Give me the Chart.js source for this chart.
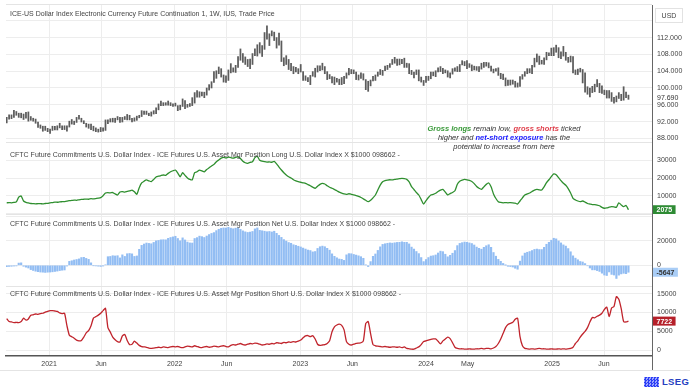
<!DOCTYPE html>
<html>
<head>
<meta charset="utf-8">
<script src="https://cdn.jsdelivr.net/npm/chart.js@4.4.0/dist/chart.umd.min.js"></script>
<style>
  body { margin: 0; background: #fff; font-family: "Liberation Sans", Arial, sans-serif; }
  #wrap { position: relative; width: 690px; height: 388px; overflow: hidden; background: #fff; }
  .pane { position: absolute; left: 0; }
  .ttl { position: absolute; left: 10px; font-size: 7px; line-height: 8px; color: #444; white-space: nowrap; z-index: 2; }
  .rule { position: absolute; left: 6px; width: 646px; height: 1px; background: #e4e4e4; z-index: 1; }
  #note { position: absolute; left: 394px; width: 220px; top: 124px; text-align: center; font-style: italic;
          font-size: 7.5px; line-height: 9px; color: #333; z-index: 2; }
  #usd { position: absolute; left: 655px; top: 8px; width: 26px; height: 13px; border: 1px solid #e2e2e2;
         font-size: 7px; line-height: 13px; text-align: center; color: #444; z-index: 2; }
  #vaxis { position: absolute; left: 652px; top: 5px; width: 1px; height: 365px; background: #666; z-index: 2; }
  #logo { position: absolute; left: 644px; top: 376px; z-index: 2; display: flex; align-items: center; }
  #logo i { display: inline-block; width: 15px; height: 10px; margin-right: 3px;
            background: repeating-conic-gradient(#2b3ef5 0 25%, #9aa3ff 0 50%) 0 0/3px 3px; }
  #logo b { font-size: 9.5px; color: #2540c0; letter-spacing: 0.3px; }
</style>
</head>
<body>
<div id="wrap">
  <div class="pane" style="top:5px"><canvas id="cPrice" width="690" height="137"></canvas></div>
  <div class="pane" style="top:142px"><canvas id="cLong" width="690" height="72"></canvas></div>
  <div class="pane" style="top:214px"><canvas id="cNet" width="690" height="72"></canvas></div>
  <div class="pane" style="top:286px"><canvas id="cShort" width="690" height="86"></canvas></div>

  <div class="rule" style="top:4px"></div>
  <div class="rule" style="top:142px"></div>
  <div class="rule" style="top:214px"></div>
  <div class="rule" style="top:286px"></div>
  <div class="rule" style="top:370px;left:0;width:690px"></div>
  <div id="vaxis"></div>

  <div class="ttl" style="top:10px">ICE-US Dollar Index Electronic Currency Future Continuation 1, 1W, IUS, Trade Price</div>
  <div class="ttl" style="top:151px">CFTC Future Commitments U.S. Dollar Index - ICE Futures U.S. Asset Mgr Position Long U.S. Dollar Index X $1000 098662 -</div>
  <div class="ttl" style="top:220px">CFTC Future Commitments U.S. Dollar Index - ICE Futures U.S. Asset Mgr Position Net U.S. Dollar Index X $1000 098662 -</div>
  <div class="ttl" style="top:290px">CFTC Future Commitments U.S. Dollar Index - ICE Futures U.S. Asset Mgr Position Short U.S. Dollar Index X $1000 098662 -</div>

  <div id="note"><b style="color:#3a9a3a">Gross longs</b> remain low, <b style="color:#e0404c">gross shorts</b> ticked<br>higher and <b style="color:#1a1aff">net-short exposure</b> has the<br>potential to increase from here</div>
  <div id="usd">USD</div>
  <div id="logo"><i></i><b>LSEG</b></div>
</div>

<script>
// weekly series, first week starting 2020-08-31
const priceLow = [
  91.7, 92.6, 92.7, 93.0, 93.5, 93.0, 92.9, 92.5, 92.8, 92.1,
  92.3, 92.1, 91.6, 90.6, 90.4, 89.7, 89.9, 89.6, 89.2, 89.9,
  90.0, 90.0, 90.5, 90.1, 90.1, 89.7, 90.7, 91.4, 91.3, 91.8,
  92.6, 91.9, 91.5, 90.7, 90.4, 90.1, 89.8, 89.6, 89.5, 89.6,
  89.7, 89.9, 91.5, 91.9, 91.9, 91.8, 92.4, 91.8, 91.9, 92.5,
  92.4, 92.4, 91.9, 92.1, 92.3, 92.9, 93.2, 93.7, 93.7, 93.4,
  93.3, 93.8, 93.9, 94.8, 95.8, 95.8, 95.9, 95.9, 95.8, 95.6,
  95.7, 94.6, 94.8, 95.6, 95.1, 95.4, 95.6, 95.8, 96.4, 97.8,
  97.8, 98.1, 97.7, 98.3, 99.5, 100.0, 101.3, 102.3, 103.4, 102.6,
  101.4, 101.3, 101.8, 103.6, 103.8, 103.7, 104.9, 106.6, 106.1, 105.6,
  105.1, 104.6, 105.6, 107.7, 107.6, 108.3, 107.5, 109.2, 111.6, 110.1,
  112.4, 111.3, 109.5, 110.2, 106.3, 105.3, 105.6, 104.4, 104.1, 103.4,
  103.8, 103.4, 103.8, 101.8, 101.8, 101.5, 100.8, 102.8, 102.6, 103.8,
  104.1, 104.3, 103.4, 102.0, 102.2, 101.2, 100.8, 101.4, 100.8, 100.8,
  101.0, 102.3, 103.1, 103.4, 103.4, 102.0, 101.9, 102.3, 101.9, 99.6,
  99.2, 100.5, 101.7, 101.8, 102.8, 103.2, 103.0, 104.1, 104.4, 104.9,
  105.6, 105.9, 105.4, 105.5, 105.8, 104.9, 104.9, 103.4, 103.2, 102.4,
  103.2, 101.7, 101.4, 100.6, 101.3, 101.8, 102.2, 102.9, 102.7, 103.8,
  103.9, 103.4, 103.6, 102.6, 102.4, 103.3, 104.0, 103.9, 103.9, 105.5,
  105.3, 104.6, 104.9, 104.1, 104.3, 104.2, 103.9, 104.5, 104.9, 105.2,
  104.8, 104.0, 103.6, 104.0, 103.0, 102.2, 102.0, 100.5, 100.6, 100.7,
  100.9, 100.2, 100.2, 100.4, 102.1, 102.8, 103.4, 103.6, 103.4, 105.0,
  106.2, 105.6, 105.7, 105.6, 106.7, 107.7, 107.7, 107.7, 108.5, 107.2,
  107.0, 107.6, 106.6, 106.1, 106.2, 103.6, 103.2, 103.2, 103.8, 101.2,
  99.0, 98.5, 97.9, 98.9, 99.1, 100.3, 98.9, 98.7, 98.4, 97.6,
  97.6, 96.8, 96.4, 96.7, 97.5, 97.0, 97.1, 97.7, 97.3
];
const priceHigh = [
  93.0, 93.6, 93.6, 94.7, 94.4, 94.0, 94.0, 93.8, 94.2, 94.3,
  93.2, 92.8, 92.6, 91.9, 91.2, 90.9, 90.9, 90.4, 90.2, 90.9,
  90.9, 91.0, 91.6, 91.0, 91.0, 91.0, 92.1, 92.5, 92.1, 93.0,
  93.5, 92.8, 92.2, 91.6, 91.4, 91.4, 90.9, 90.5, 90.2, 90.6,
  90.5, 92.4, 92.4, 92.7, 92.8, 92.8, 93.2, 93.0, 93.0, 93.2,
  93.7, 93.5, 92.8, 92.9, 93.3, 93.5, 94.6, 94.5, 94.5, 94.0,
  94.3, 94.6, 95.3, 96.2, 96.9, 96.5, 96.5, 96.9, 96.5, 96.2,
  96.4, 95.8, 95.9, 97.4, 97.0, 96.1, 96.3, 97.7, 98.9, 99.4,
  99.1, 99.0, 99.0, 100.0, 100.8, 101.5, 103.9, 104.1, 105.0, 104.6,
  103.1, 102.9, 104.3, 105.8, 104.8, 105.4, 107.5, 109.3, 108.2, 107.4,
  106.8, 106.9, 108.2, 109.3, 110.3, 110.8, 110.1, 113.2, 114.8, 112.9,
  113.6, 113.3, 112.0, 113.1, 111.2, 107.2, 107.7, 106.8, 105.9, 105.1,
  104.9, 104.6, 105.6, 103.9, 102.9, 102.5, 103.0, 103.9, 104.7, 105.3,
  105.3, 105.9, 105.1, 103.9, 103.2, 102.7, 102.6, 102.3, 102.1, 102.5,
  102.8, 103.6, 104.7, 104.4, 104.3, 103.8, 103.1, 103.6, 103.4, 102.0,
  101.6, 101.9, 102.8, 103.1, 103.8, 104.4, 104.2, 105.2, 105.4, 105.8,
  106.8, 107.3, 106.9, 106.9, 106.8, 107.1, 105.9, 105.8, 104.2, 103.8,
  104.3, 104.3, 102.6, 101.8, 102.8, 102.8, 103.8, 103.8, 104.1, 104.8,
  105.1, 104.7, 104.3, 104.1, 103.6, 104.6, 104.8, 105.1, 105.6, 106.5,
  106.3, 106.5, 105.8, 105.5, 105.2, 105.1, 105.1, 105.9, 106.1, 106.1,
  106.0, 105.2, 104.5, 104.6, 104.8, 103.5, 103.3, 102.4, 101.9, 101.9,
  101.9, 101.6, 101.2, 102.7, 103.2, 103.9, 104.6, 104.6, 105.4, 107.1,
  108.1, 107.6, 106.6, 107.2, 108.5, 108.4, 109.5, 109.6, 110.2, 109.6,
  108.6, 109.9, 108.5, 107.3, 107.6, 107.5, 104.3, 104.5, 104.7, 104.4,
  103.6, 100.3, 100.0, 100.4, 100.9, 102.0, 101.1, 100.5, 99.5, 99.4,
  99.4, 98.9, 97.8, 98.1, 98.9, 98.5, 100.3, 99.0, 98.3
];
const lastPrice = 97.69;

const longPos = [
  6000, 6100, 6000, 6200, 6500, 9200, 9800, 7000, 6200, 5900,
  5600, 5500, 5400, 5500, 5500, 5400, 5600, 5700, 6000, 6100,
  6400, 6300, 6500, 6600, 6700, 6900, 7200, 7300, 7500, 7400,
  7700, 7900, 8000, 8100, 8000, 8300, 8200, 8400, 8600, 8900,
  10000, 11500, 11700, 11600, 11800, 11000, 10400, 12100, 12300, 12000,
  12400, 12700, 13200, 12200, 10800, 14500, 17200, 18200, 18900, 18400,
  18000, 19200, 20600, 21000, 21400, 21700, 21500, 22600, 23500, 24100,
  24500, 22800, 20700, 23000, 21500, 20000, 19200, 19000, 23000, 23500,
  24500, 24000, 23500, 24800, 25800, 26800, 27700, 29200, 30200, 31200,
  31600, 31300, 31800, 31500, 31200, 31600, 32000, 31000, 29500, 28600,
  28300, 28800, 29200, 31500, 32200, 30000, 29500, 29200, 29000, 29100,
  28900, 29400, 28000, 26200, 24500, 23000, 21700, 20700, 20000, 19000,
  18400, 17900, 17600, 17300, 17000, 16300, 15600, 14800, 14200, 15300,
  16400, 17000, 16600, 15600, 14800, 14200, 13500, 12800, 12000, 11400,
  11000, 10800, 11100, 10800, 10400, 10100, 9600, 9000, 8200, 7400,
  6600, 7400, 8800, 10400, 13200, 16000, 17900, 18500, 18800, 19000,
  18900, 19200, 19400, 19600, 19800, 19600, 19200, 17800, 15100, 13500,
  11800, 10400, 7800, 5300, 7200, 9000, 10400, 10800, 11400, 12400,
  13200, 13600, 12000, 10400, 11200, 11800, 12800, 16500, 18200, 18800,
  19200, 19000, 18600, 18000, 16800, 15200, 14200, 13600, 15000, 16400,
  17200, 15000, 11000, 8400, 6600, 6200, 6000, 6100, 6000, 6100,
  6000, 5800, 5300, 7000, 8800, 10400, 11000, 11500, 12400, 13200,
  13600, 13300, 13200, 15000, 17400, 19000, 20800, 22300, 21800, 20200,
  18500, 17000, 15900, 14000, 11500, 8500, 7600, 7000, 6600, 7000,
  6400, 5600, 5300, 5000, 4900, 4700, 4300, 3400, 2900, 3100,
  3500, 3800, 3700, 3500, 6000, 4800, 3800, 4500, 2075
];
const netPos = [
  -1200, -900, -800, -600, -500, 1800, 2000, -800, -1500, -2200,
  -3500, -4200, -4800, -5200, -5500, -5600, -5800, -5600, -5500, -5300,
  -5000, -4700, -4300, -4000, -3800, -600, 3200, 3700, 4300, 4700,
  5200, 6300, 6500, 5600, 4800, 2000, -300, -500, -700, -900,
  -600, 400, 7000, 7200, 7800, 7600, 7800, 6000, 8500, 7200,
  9400, 9600, 9300, 7200, 7600, 13000, 16200, 17300, 18100, 17800,
  17500, 18600, 19900, 20200, 20700, 20800, 20700, 21900, 22600, 23100,
  23600, 21800, 19900, 22300, 20600, 18900, 18200, 18100, 21800, 22500,
  23700, 23300, 22600, 23800, 25000, 25900, 26600, 28200, 29300, 30100,
  30400, 30300, 30900, 30200, 29700, 30200, 30400, 29200, 28000, 27200,
  26700, 27000, 27500, 29600, 30400, 28400, 28100, 27700, 27300, 27500,
  27100, 27700, 26000, 24300, 22700, 20900, 19700, 18500, 17900, 16700,
  16200, 15500, 14900, 14000, 13200, 12400, 12000, 10900, 11200, 13700,
  15100, 15600, 15100, 13800, 12300, 9300, 7300, 6100, 5100, 4800,
  4000, 8500, 9500, 9400, 8800, 8300, 7700, 7000, 5700, 300,
  -1000, 3000, 7300, 9200, 12100, 15000, 17000, 17500, 17900, 18200,
  18000, 18300, 18600, 18700, 19100, 18700, 18700, 17400, 14800, 13200,
  11200, 9500, 6300, 3000, 4700, 6300, 7500, 7800, 8400, 10000,
  11500, 11100, 9000, 6900, 8100, 9800, 12000, 16000, 17800, 18400,
  18900, 18700, 18200, 17700, 16500, 14800, 13800, 13100, 14600, 15900,
  16700, 14600, 10400, 7400, 4800, 3200, 1500, 100, -800, -1000,
  -1400, -2400, -3200, 3400, 7600, 9900, 10600, 11200, 12000, 12900,
  13200, 12800, 12800, 14600, 17100, 18700, 20400, 22000, 21500, 19800,
  18200, 16600, 15600, 13600, 11000, 7700, 5800, 4500, 3100, 2700,
  1400, -400, -2200, -3700, -3700, -4300, -5000, -6400, -7900, -8300,
  -5400, -7400, -7900, -10700, -8000, -7000, -6500, -6800, -5647
];
const shortPos = [
  8400, 7600, 7500, 7300, 7400, 7300, 7600, 8500, 8000, 8300,
  9300, 9400, 9600, 9500, 9700, 9800, 10100, 10300, 10500, 10500,
  10400, 10300, 9900, 9700, 9800, 6500, 4000, 3600, 3200, 2700,
  2500, 2600, 3500, 4600, 5200, 6500, 8500, 8900, 9300, 9800,
  10500, 11100, 6000, 4800, 3500, 2800, 2300, 2200, 3800, 4200,
  2600, 1500, 1600, 2400, 1900, 1300, 1000, 900, 800, 600,
  500, 600, 700, 800, 700, 900, 800, 700, 900, 1000,
  900, 1000, 800, 700, 900, 1100, 1000, 900, 1200, 1000,
  800, 700, 900, 1000, 800, 900, 1100, 1000, 900, 1100,
  1200, 1000, 900, 1300, 1500, 1400, 1600, 1800, 1500, 1400,
  1600, 1800, 1700, 1900, 1800, 1600, 1400, 1500, 1700, 1600,
  1800, 1700, 2000, 1900, 1800, 2100, 2000, 2200, 2100, 2300,
  2200, 2400, 2700, 3300, 3800, 3900, 3600, 3900, 3000, 1600,
  1300, 1400, 1500, 1800, 2500, 4900, 6200, 6700, 6900, 6600,
  5400, 2300, 1600, 1400, 1600, 1800, 1900, 2000, 2500, 7100,
  7600, 4400, 1500, 1200, 1100, 1000, 900, 1000, 900, 800,
  900, 900, 800, 900, 700, 900, 500, 400, 300, 300,
  600, 900, 1500, 2300, 2500, 2700, 2900, 3000, 3000, 2400,
  1700, 2500, 3000, 3500, 3100, 2000, 800, 500, 400, 400,
  300, 300, 400, 300, 300, 400, 400, 500, 400, 500,
  500, 400, 600, 1000, 1800, 3000, 4500, 6000, 6800, 7100,
  7400, 8200, 8500, 3600, 1200, 500, 400, 300, 400, 300,
  400, 500, 400, 400, 300, 300, 400, 300, 300, 400,
  300, 400, 300, 400, 500, 800, 1800, 2500, 3500, 4300,
  5000, 6000, 7500, 8700, 8600, 9000, 9300, 9800, 10800, 11400,
  8900, 11200, 11600, 14200, 13500, 11000, 7600, 7500, 7722
];

const tickLabels = ['2021', 'Jun', '2022', 'Jun', '2023', 'Jun', '2024', 'May', '2025', 'Jun'];
const tickDates = ['2021-01-01', '2021-06-01', '2022-01-01', '2022-06-01', '2023-01-01',
                   '2023-06-01', '2024-01-01', '2024-05-01', '2025-01-01', '2025-06-01'];

const priceGrid = [88, 92, 96, 100, 104, 108, 112, 116];
const priceLabels = [88, 92, 96, 100, 104, 108, 112];
const longGrid = [0, 10000, 20000, 30000, 40000];
const longLabels = [10000, 20000, 30000];
const netGrid = [0, 20000, 40000];
const netLabels = [0, 20000];
const shortGrid = [0, 5000, 10000, 15000];
const shortLabels = [0, 5000, 10000, 15000];

const FONT = '"Liberation Sans", Arial, sans-serif';
const DAY = 86400000;
const axisZero = Date.UTC(2021, 0, 1);
const firstWeek = Date.UTC(2020, 7, 31);
const weekDay = i => (firstWeek - axisZero) / DAY + 7 * i;
const dayOf = s => (Date.parse(s) - axisZero) / DAY;
const X_MIN = -125, X_MAX = 1751.4;

function xAxis(showLabels) {
  return {
    type: 'linear', min: X_MIN, max: X_MAX, bounds: 'data', offset: false,
    afterBuildTicks: s => { s.ticks = tickDates.map(d => ({ value: dayOf(d) })); },
    afterFit: s => { s.height = showLabels ? 16 : 0; s.paddingLeft = 0; s.paddingRight = 0; },
    ticks: { display: showLabels, autoSkip: false, maxRotation: 0, padding: 4, color: '#444',
             font: { family: FONT, size: 7 }, callback: (v, i) => tickLabels[i] },
    grid: { color: '#ededed', drawTicks: false, offset: false },
    border: { display: showLabels, color: '#555', width: 1.5 }
  };
}

function yAxis(min, max, grid, labels, fmt) {
  return {
    position: 'right', min, max, bounds: 'data',
    afterBuildTicks: s => { s.ticks = grid.map(v => ({ value: v })); },
    afterFit: s => { s.width = 38; s.paddingTop = 0; s.paddingBottom = 0; },
    ticks: { padding: 5, color: '#444', font: { family: FONT, size: 7 },
             callback: v => labels.includes(v) ? fmt(v) : '' },
    grid: { color: '#ededed', drawTicks: false },
    border: { display: false }
  };
}

// last-value tag on the right axis
function badge(value, text, bg, fg) {
  return {
    id: 'badge',
    afterDraw(chart) {
      const ctx = chart.ctx;
      const y = chart.scales.y.getPixelForValue(value);
      const x = chart.chartArea.right + 1;
      ctx.save();
      ctx.font = (bg ? 'bold ' : '') + '7px ' + FONT;
      const w = ctx.measureText(text).width + 7;
      if (bg) { ctx.fillStyle = bg; ctx.fillRect(x, y - 4.5, w, 9); }
      ctx.fillStyle = fg;
      ctx.textBaseline = 'middle';
      ctx.fillText(text, x + (bg ? 3.5 : 4), y + 0.5);
      ctx.restore();
    }
  };
}

function makeChart(id, type, datasets, yCfg, showX, plugin) {
  return new Chart(document.getElementById(id), {
    type,
    data: { datasets },
    options: {
      responsive: false,
      animation: false,
      layout: { padding: { left: 6, right: 0, top: 0, bottom: 0 } },
      scales: { x: xAxis(showX), y: yCfg },
      plugins: { legend: { display: false }, tooltip: { enabled: false } }
    },
    plugins: [plugin]
  });
}

makeChart('cPrice', 'bar', [{
  data: priceLow.map((lo, i) => ({ x: weekDay(i), y: [lo, priceHigh[i]] })),
  backgroundColor: '#5c5c5c', barThickness: 1.1, borderWidth: 0
}], yAxis(87.14, 119.76, priceGrid, priceLabels, v => v.toFixed(3)), false,
  badge(lastPrice, lastPrice.toFixed(3), null, '#333'));

makeChart('cLong', 'line', [{
  data: longPos.map((v, i) => ({ x: weekDay(i), y: v })),
  borderColor: '#2f8f2f', borderWidth: 1.3, pointRadius: 0, tension: 0.2
}], yAxis(-340, 40340, longGrid, longLabels, v => String(v)), false,
  badge(longPos[longPos.length - 1], String(longPos[longPos.length - 1]), '#2e8b34', '#fff'));

makeChart('cNet', 'bar', [{
  data: netPos.map((v, i) => ({ x: weekDay(i), y: v })),
  backgroundColor: '#92bdf3', barThickness: 1.5, borderWidth: 0
}], yAxis(-16830, 41710, netGrid, netLabels, v => String(v)), false,
  badge(netPos[netPos.length - 1], String(netPos[netPos.length - 1]), '#a9cdf6', '#333'));

makeChart('cShort', 'line', [{
  data: shortPos.map((v, i) => ({ x: weekDay(i), y: v })),
  borderColor: '#c0242c', borderWidth: 1.3, pointRadius: 0, tension: 0.2
}], yAxis(-1510, 17010, shortGrid, shortLabels, v => String(v)), true,
  badge(shortPos[shortPos.length - 1], String(shortPos[shortPos.length - 1]), '#b5202a', '#fff'));
</script>
</body>
</html>
